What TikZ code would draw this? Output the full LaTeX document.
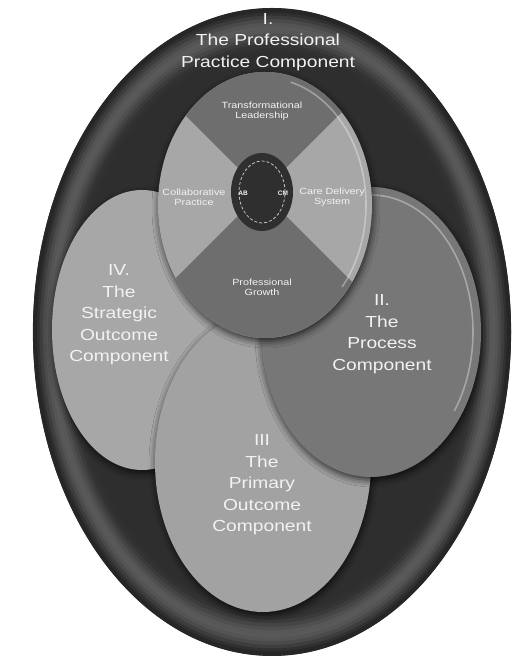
\documentclass[tikz,border=0pt]{standalone}
\usepackage{fontspec}
\setmainfont{Liberation Sans}
\newfontfamily\lblfont[FakeStretch=1.2]{Liberation Sans}
\usetikzlibrary{shadows.blur}
\definecolor{lightgray}{HTML}{A7A7A7}
\definecolor{midgray}{HTML}{777777}
\definecolor{quaddark}{HTML}{6E6E6E}
\definecolor{innerdark}{HTML}{2F2F2F}
\definecolor{labeltext}{HTML}{F2F2F2}
\begin{document}
\begin{tikzpicture}[x=1pt, y=1pt,
		lbl/.style={align=center, text=labeltext, inner sep=0pt,
			font=\lblfont\fontsize{16}{21.5}\selectfont},
		sublbl/.style={align=center, text=labeltext, inner sep=0pt,
			font=\lblfont\fontsize{9}{10}\selectfont},
		tinylbl/.style={text=labeltext, inner sep=0pt, font=\bfseries\fontsize{6.5}{7}\selectfont},
		shapeshadow/.style={blur shadow={shadow xshift=1pt, shadow yshift=-3pt,
			shadow blur radius=7pt, shadow opacity=75}},
		rim/.style={draw=white, line width=1.6pt, opacity=0.35, line cap=round}]
	\useasboundingbox (0, 0) rectangle (511, 660);
	% centres
	\coordinate (cO) at (272, 328);
	\coordinate (cIV) at (142, 330);
	\coordinate (cIII) at (263, 198);
	\coordinate (cII) at (371, 328);
	\coordinate (cI) at (265, 455);
	\coordinate (cX) at (262, 468);
	% outer ring, built up from thin bands
	\fill[white!18!black] (cO) ellipse [x radius=239, y radius=324];
	\foreach \d/\g in {34.5/19, 31.5/20, 28.5/23, 25.5/27, 22.5/31, 19.5/34, 16.5/35, 13.5/33, 10.5/29, 7.5/24, 4.5/19, 2/15} {
		\draw[white!\g!black, line width=4.2pt] (cO) ellipse [x radius=239-\d, y radius=324-1.2*\d];
	}
	% the four components
	\fill[shapeshadow, lightgray] (cIV) ellipse [x radius=90, y radius=140];
	\fill[shapeshadow, lightgray!97!black] (cIII) ellipse [x radius=108, y radius=150];
	\fill[shapeshadow, midgray] (cII) ellipse [x radius=110, y radius=145];
	\draw[rim] ([shift={(95:102 and 137)}]cII) arc [start angle=95, end angle=-35, x radius=102, y radius=137];
	\fill[shapeshadow, lightgray] (cI) ellipse [x radius=107, y radius=133];
	\begin{scope}
		\clip (cI) ellipse [x radius=107, y radius=133];
		\fill[quaddark] (cX) -- ++(-220, 220) -- ++(440, 0) -- cycle;
		\fill[quaddark] (cX) -- ++(-220, -220) -- ++(440, 0) -- cycle;
	\end{scope}
	\draw[rim] ([shift={(75:101 and 127)}]cI) arc [start angle=75, end angle=-40, x radius=101, y radius=127];
	% inner cycle
	\fill[innerdark] (cX) ellipse [x radius=31, y radius=39];
	\draw[labeltext!80!black, line width=0.8pt, dash pattern=on 3pt off 2pt] (cX) ellipse [x radius=23, y radius=31];
	% labels
	\node[lbl] (tI) at (268, 618) {I.\\The Professional\\Practice Component};
	\node[lbl] (tII) at (382, 326) {II.\\The\\Process\\Component};
	\node[lbl] (tIII) at (262, 175) {III\\The\\Primary\\Outcome\\Component};
	\node[lbl] (tIV) at (119, 345) {IV.\\The\\Strategic\\Outcome\\Component};
	\node[sublbl] (tLead) at (262, 549) {Transformational\\Leadership};
	\node[sublbl] (tColl) at (194, 463) {Collaborative\\Practice};
	\node[sublbl] (tCare) at (332, 463) {Care Delivery\\System};
	\node[sublbl] (tGrow) at (262, 373) {Professional\\Growth};
	\node[tinylbl] (tAB) at (243, 467) {AB};
	\node[tinylbl] (tCM) at (283, 467) {CM};
\end{tikzpicture}
\end{document}
